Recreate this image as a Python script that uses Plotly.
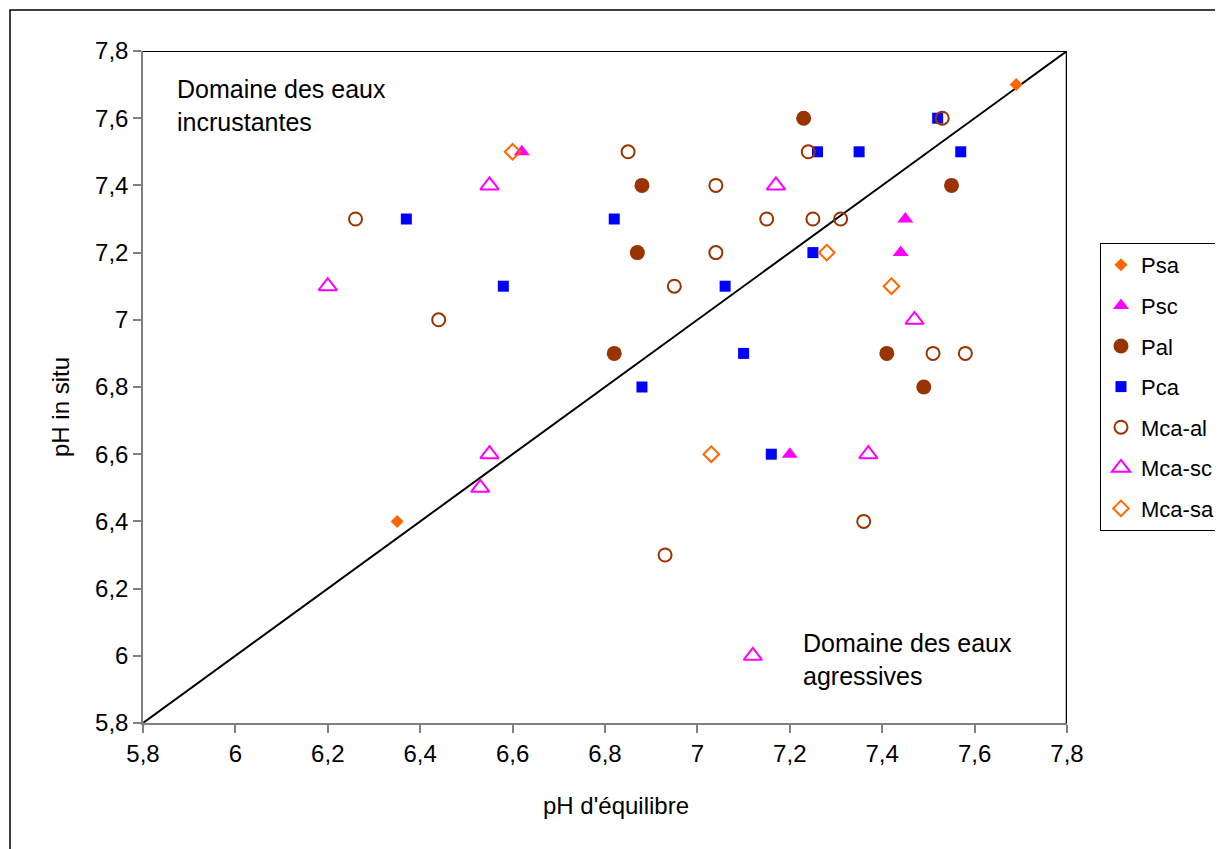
import plotly.graph_objects as go

# ---- data (pH d'équilibre, pH in situ) ----
psa_x = [7.69, 6.35]
psa_y = [7.7, 6.4]

psc_x = [6.62, 7.45, 7.44, 7.2]
psc_y = [7.5, 7.3, 7.2, 6.6]

pal_x = [7.23, 6.88, 6.87, 6.82, 7.55, 7.41, 7.49]
pal_y = [7.6, 7.4, 7.2, 6.9, 7.4, 6.9, 6.8]

pca_x = [6.37, 6.58, 6.82, 6.88, 7.06, 7.10, 7.16, 7.25, 7.26, 7.35, 7.52, 7.57]
pca_y = [7.3, 7.1, 7.3, 6.8, 7.1, 6.9, 6.6, 7.2, 7.5, 7.5, 7.6, 7.5]

mcaal_x = [6.26, 6.44, 6.85, 7.04, 7.04, 6.95, 7.15, 7.25, 7.31, 7.24, 7.53, 7.51, 7.58, 7.36, 6.93]
mcaal_y = [7.3, 7.0, 7.5, 7.4, 7.2, 7.1, 7.3, 7.3, 7.3, 7.5, 7.6, 6.9, 6.9, 6.4, 6.3]

mcasc_x = [6.2, 6.55, 7.17, 7.47, 7.37, 7.12, 6.55, 6.53]
mcasc_y = [7.1, 7.4, 7.4, 7.0, 6.6, 6.0, 6.6, 6.5]

mcasa_x = [6.6, 7.28, 7.42, 7.03]
mcasa_y = [7.5, 7.2, 7.1, 6.6]

diag_x = [5.8, 7.8]
diag_y = [5.8, 7.8]

x_ticks = [5.8, 6.0, 6.2, 6.4, 6.6, 6.8, 7.0, 7.2, 7.4, 7.6, 7.8]
y_ticks = [5.8, 6.0, 6.2, 6.4, 6.6, 6.8, 7.0, 7.2, 7.4, 7.6, 7.8]

FONT = "Liberation Sans, Arial, sans-serif"
ORANGE = "#FF6600"
MAGENTA = "#FF00FF"
BROWN = "#993300"
BLUE = "#0000FF"

# page body has an 8px margin: figure origin is at (8, 8) in the window
OFF = 8
W, H = 1223 - OFF, 849 - OFF
PL, PR, PT, PB = 143 - OFF, 1067 - OFF, 51 - OFF, 723 - OFF   # plot area in figure px
PW, PH = PR - PL, PB - PT


def px_x(px):
    return (px - OFF - PL) / PW


def px_y(py):
    return (PB - (py - OFF)) / PH


fig = go.Figure()

# diagonal line
fig.add_trace(go.Scatter(x=diag_x, y=diag_y, mode="lines+markers",
                         line=dict(color="black", width=2),
                         marker=dict(color="#008080", size=3),
                         showlegend=False, hoverinfo="skip"))

series = [
    ("Psa", psa_x, psa_y, dict(symbol="diamond", size=10, color=ORANGE)),
    ("Psc", psc_x, psc_y, dict(symbol="triangle-up", size=14, color=MAGENTA)),
    ("Pal", pal_x, pal_y, dict(symbol="circle", size=15, color=BROWN)),
    ("Pca", pca_x, pca_y, dict(symbol="square", size=11, color=BLUE)),
    ("Mca-al", mcaal_x, mcaal_y, dict(symbol="circle-open", size=13, color=BROWN, line=dict(width=2, color=BROWN))),
    ("Mca-sc", mcasc_x, mcasc_y, dict(symbol="triangle-up-open", size=16, color=MAGENTA, line=dict(width=2, color=MAGENTA))),
    ("Mca-sa", mcasa_x, mcasa_y, dict(symbol="diamond-open", size=12, color=ORANGE, line=dict(width=2, color=ORANGE))),
]
for name, xs, ys, mk in series:
    fig.add_trace(go.Scatter(x=xs, y=ys, mode="markers", name=name,
                             marker=mk, legendgroup=name))

axis_common = dict(
    showgrid=False, zeroline=False,
    showline=True, linecolor="#808080", linewidth=1.5,
    ticks="outside", ticklen=8, tickcolor="#808080", tickwidth=1.5,
    tickfont=dict(family=FONT, size=24, color="black"),
)

fig.update_xaxes(range=[5.8, 7.8], tickvals=x_ticks, **axis_common)
fig.update_yaxes(range=[5.8, 7.8], tickvals=y_ticks, **axis_common)

shapes = [
    # top and right plot borders (black)
    dict(type="line", xref="x", yref="y", x0=5.8, x1=7.8, y0=7.8, y1=7.8,
         line=dict(color="black", width=2)),
    dict(type="line", xref="x", yref="y", x0=7.8, x1=7.8, y0=5.8, y1=7.8,
         line=dict(color="black", width=2.5)),
    # outer chart border
    dict(type="rect", xref="paper", yref="paper",
         x0=px_x(10), x1=px_x(1260), y0=px_y(880), y1=px_y(10),
         line=dict(color="black", width=1.5), layer="below"),
]

annotations = [
    dict(x=5.87, y=7.735, xref="x", yref="y", xanchor="left", yanchor="top",
         text="Domaine des eaux<br>incrustantes", showarrow=False, align="left",
         font=dict(family=FONT, size=25, color="black")),
    dict(x=7.225, y=6.085, xref="x", yref="y", xanchor="left", yanchor="top",
         text="Domaine des eaux<br>agressives", showarrow=False, align="left",
         font=dict(family=FONT, size=25, color="black")),
    dict(x=px_x(616), y=px_y(806), xref="paper", yref="paper",
         xanchor="center", yanchor="middle", text="pH d'équilibre", showarrow=False,
         font=dict(family=FONT, size=24, color="black")),
    dict(x=px_x(60), y=px_y(407), xref="paper", yref="paper",
         xanchor="center", yanchor="middle", text="pH in situ", showarrow=False,
         textangle=-90, font=dict(family=FONT, size=24, color="black")),
]

fig.update_layout(
    width=W, height=H,
    margin=dict(l=PL, r=W - PR, t=PT, b=H - PB, autoexpand=False),
    paper_bgcolor="white", plot_bgcolor="white",
    separators=", ",
    font=dict(family=FONT, color="black"),
    shapes=shapes, annotations=annotations,
    legend=dict(x=px_x(1100), y=px_y(243), xanchor="left", yanchor="top",
                bordercolor="black", borderwidth=1, bgcolor="white",
                font=dict(family=FONT, size=22, color="black"),
                tracegroupgap=9, itemwidth=30),
    showlegend=True,
)

fig.write_html("out.html")
